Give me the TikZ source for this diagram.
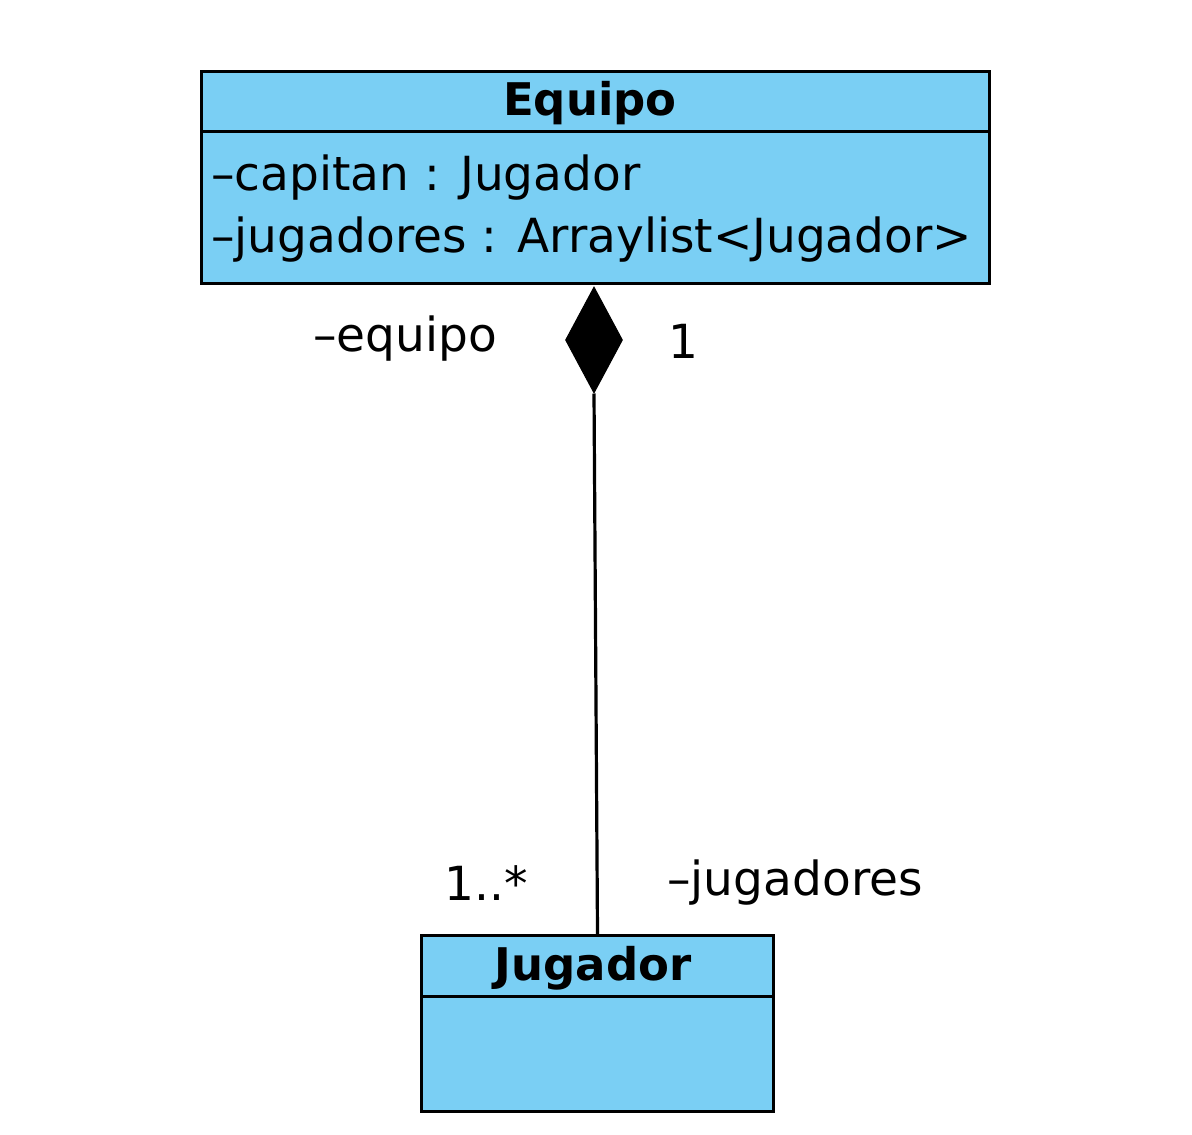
\documentclass[tikz,border=0pt]{standalone}
\usepackage{fontspec}
\setmainfont{DejaVu Sans}
\usetikzlibrary{shapes.geometric}
\definecolor{umlblue}{HTML}{7ACFF4}
\tikzset{
  classbox/.style={draw=black, line width=1.5pt, fill=umlblue, rectangle, inner sep=0pt, anchor=north west},
  divider/.style={line width=1.5pt},
  lbl/.style={font=\fontsize{23.5}{28}\selectfont, inner sep=0pt},
  title/.style={font=\fontsize{22.5}{27}\selectfont\bfseries, inner sep=0pt},
  comp/.style={diamond, draw=black, fill=black, inner sep=0pt, minimum width=28.5pt, minimum height=53pt, line width=0.5pt},
  conn/.style={line width=1.6pt}
}
\begin{document}
\begin{tikzpicture}[x=0.5pt, y=-0.5pt]
\useasboundingbox (0,0) rectangle (1192,1134);
% Equipo class
\node[classbox, minimum width=394pt, minimum height=106pt] (equipo) at (200,70) {};
\draw[divider] (200,132) coordinate (eqdl) -- (988,132) coordinate (eqdr);
\node[title] (eqname) at (590,103) {Equipo};
\node[lbl, anchor=base west] (eqa1) at (211,191) {–capitan : Jugador};
\node[lbl, anchor=base west] (eqa2) at (211,252) {–jugadores : Arraylist<Jugador>};
% Jugador class
\node[classbox, minimum width=176pt, minimum height=88pt] (jugador) at (420,934) {};
\draw[divider] (420,996) coordinate (judl) -- (772,996) coordinate (judr);
\node[title] (juname) at (593,968) {Jugador};
% composition
\node[comp] (dia) at (594,340) {};
\draw[conn] (dia.south) -- (jugador.north);
% role labels
\node[lbl] (requipo) at (405,339) {–equipo};
\node[lbl] (mone) at (683,341) {1};
\node[lbl] (mmany) at (486,883) {1..*};
\node[lbl] (rjug) at (795,883) {–jugadores};
\end{tikzpicture}
\end{document}
